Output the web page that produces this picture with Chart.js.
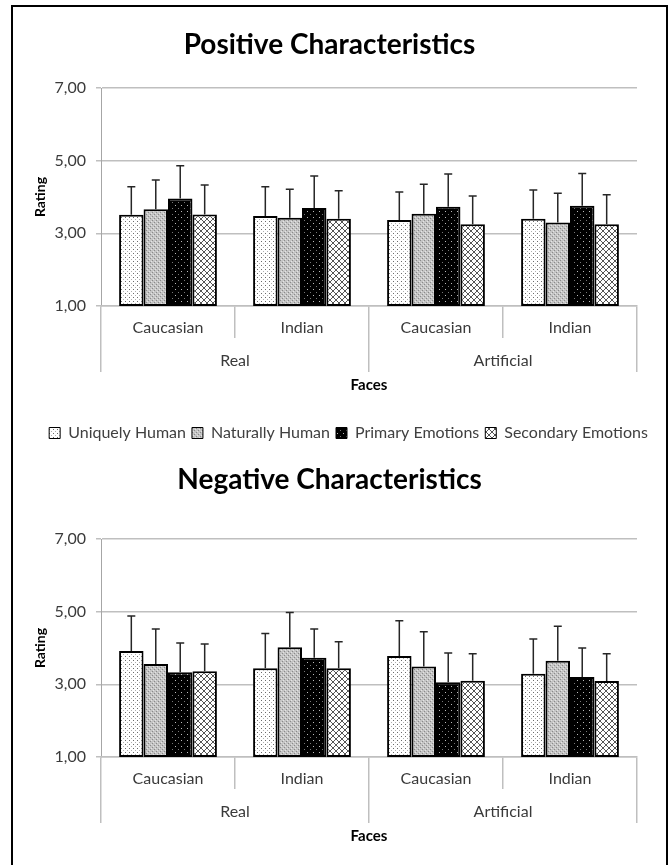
<!DOCTYPE html>
<html>
<head>
<meta charset="utf-8">
<script src="https://cdn.jsdelivr.net/npm/chart.js@4.4.1/dist/chart.umd.min.js"></script>
<style>
  html, body { margin:0; padding:0; background:#fff; }
  body { width:671px; height:865px; position:relative; overflow:hidden; }
  canvas { position:absolute; left:0; }
  #c1 { top:0; }
  #c2 { top:451px; }
  #frame { position:absolute; left:11px; top:5px; width:657px; height:900px; border:2.5px solid #000; box-sizing:border-box; pointer-events:none; }
</style>
</head>
<body>
<canvas id="c1" width="671" height="451" style="width:671px;height:451px"></canvas>
<canvas id="c2" width="671" height="414" style="width:671px;height:414px"></canvas>
<div id="frame"></div>
<script>
// ===== data =====
const races = ['Caucasian', 'Indian', 'Caucasian', 'Indian'];
const faceTypes = ['Real', 'Artificial'];
const seriesNames = ['Uniquely Human', 'Naturally Human', 'Primary Emotions', 'Secondary Emotions'];
const yTicks = [1, 3, 5, 7];

// Positive characteristics: means and error (upper bar length)
const posUH = [3.51, 3.48, 3.37, 3.40];
const posNH = [3.66, 3.43, 3.54, 3.30];
const posPE = [3.96, 3.70, 3.73, 3.76];
const posSE = [3.52, 3.40, 3.25, 3.25];
const posErrUH = [0.77, 0.80, 0.77, 0.79];
const posErrNH = [0.81, 0.78, 0.81, 0.80];
const posErrPE = [0.90, 0.88, 0.90, 0.89];
const posErrSE = [0.81, 0.77, 0.78, 0.81];

// Negative characteristics
const negUH = [3.92, 3.44, 3.78, 3.29];
const negNH = [3.56, 4.02, 3.49, 3.65];
const negPE = [3.33, 3.73, 3.06, 3.20];
const negSE = [3.36, 3.44, 3.10, 3.09];
const negErrUH = [0.96, 0.96, 0.97, 0.96];
const negErrNH = [0.96, 0.96, 0.96, 0.95];
const negErrPE = [0.81, 0.79, 0.80, 0.80];
const negErrSE = [0.75, 0.73, 0.74, 0.75];

Chart.defaults.font.family = 'Lato, "Open Sans", sans-serif';

// ===== fill patterns =====
const pctx = document.getElementById('c1').getContext('2d');
function makePattern(size, draw){
  const c = document.createElement('canvas');
  c.width = c.height = size;
  const g = c.getContext('2d');
  draw(g, size);
  return pctx.createPattern(c, 'repeat');
}
const patterns = [
  makePattern(4, (g) => { g.fillStyle = '#fff'; g.fillRect(0,0,4,4); g.fillStyle = '#6a6a6a'; g.fillRect(1,1,1,1); g.fillStyle = '#b0b0b0'; g.fillRect(3,3,1,1); }),
  makePattern(4, (g) => { g.fillStyle = '#c4c4c4'; g.fillRect(0,0,4,4); g.fillStyle = '#8a8a8a'; g.fillRect(0,0,1,1); g.fillRect(2,2,1,1);
    g.fillStyle = '#e4e4e4'; g.fillRect(1,3,1,1); g.fillRect(3,1,1,1); }),
  makePattern(6, (g) => { g.fillStyle = '#000'; g.fillRect(0,0,6,6); g.fillStyle = '#bbb'; g.fillRect(1,1,1,1); g.fillStyle = '#777'; g.fillRect(4,4,1,1); }),
  makePattern(6, (g) => { g.fillStyle = '#fff'; g.fillRect(0,0,6,6); g.fillStyle = '#555';
    for(let i=0;i<6;i++){ g.fillRect(i,i,1,1); g.fillRect(i,5-i,1,1); } })
];

// ===== error bars (upper only, with cap) =====
const errorBars = {
  id: 'errorBars',
  afterDatasetsDraw(chart){
    const {ctx} = chart;
    const y = chart.scales.y;
    chart.data.datasets.forEach((ds, i) => {
      chart.getDatasetMeta(i).data.forEach((bar, j) => {
        const top = y.getPixelForValue(ds.data[j][1] + ds.errors[j]);
        ctx.save();
        ctx.strokeStyle = '#262626';
        ctx.lineWidth = 1.5;
        ctx.beginPath();
        ctx.moveTo(bar.x, bar.y);
        ctx.lineTo(bar.x, top);
        ctx.moveTo(bar.x - 4, top);
        ctx.lineTo(bar.x + 4, top);
        ctx.stroke();
        ctx.restore();
      });
    });
  }
};

// nudge title and legend so they sit where the reference has them
const boxShift = {
  id: 'boxShift',
  afterLayout(chart){
    if(chart.titleBlock){ chart.titleBlock.left += 6; chart.titleBlock.right += 6; }
    if(chart.legend && chart.options.plugins.legend.display){
      chart.legend.left += 25; chart.legend.right += 25;
    }
  }
};

function build(id, title, titlePad, means, errs, showLegend, bottomPad){
  return new Chart(document.getElementById(id), {
    type: 'bar',
    data: {
      labels: races,
      datasets: seriesNames.map((name, k) => ({
        label: name,
        data: means[k].map(v => [1, v]),
        errors: errs[k],
        backgroundColor: patterns[k],
        borderColor: '#000',
        borderWidth: 2,
        borderSkipped: false,
        categoryPercentage: 0.73,
        barPercentage: 1
      }))
    },
    options: {
      responsive: false,
      animation: false,
      layout: { padding: { left: 10, right: 34, top: 6, bottom: bottomPad } },
      plugins: {
        title: { display: true, text: title, color: '#000', font: { size: 28, weight: 'bold' }, padding: titlePad },
        legend: {
          display: showLegend, position: 'bottom',
          title: { display: true, text: ' ', font: { size: 1 }, padding: { top: 11, bottom: 10.8 } },
          labels: {
            color: '#404040', font: { size: 16 }, boxWidth: 11, boxHeight: 11, padding: 6,
            generateLabels: ch => Chart.defaults.plugins.legend.labels.generateLabels(ch).map(l => ({...l, lineWidth: 1}))
          }
        },
        tooltip: { enabled: false }
      },
      scales: {
        y: {
          min: 1, max: 7,
          afterBuildTicks: s => { s.ticks = yTicks.map(v => ({ value: v })); },
          ticks: { callback: v => v.toFixed(2).replace('.', ','), color: '#3a3a3a', font: { size: 16 }, padding: 10 },
          grid: { color: '#bfbfbf', lineWidth: 1.5, tickLength: 5 },
          border: { color: '#a6a6a6', width: 1 },
          title: { display: true, text: 'Rating', color: '#000', font: { size: 14, weight: 'bold' }, padding: 21.6 },
          afterFit: s => { s.width = 91; }
        },
        x: {
          weight: 0,
          grid: { offset: true, drawOnChartArea: false, tickLength: 32, color: '#bfbfbf', lineWidth: 1.5 },
          border: { color: '#bfbfbf', width: 1.5 },
          ticks: { color: '#3a3a3a', font: { size: 16 }, padding: -19.6 },
          afterFit: s => { s.height = 32; }
        },
        x2: {
          type: 'category', labels: faceTypes, position: 'bottom', weight: 1,
          grid: { offset: true, drawOnChartArea: false, tickLength: 34, color: '#bfbfbf', lineWidth: 1.5 },
          border: { display: false },
          ticks: { color: '#3a3a3a', font: { size: 16 }, padding: -20.6 },
          title: { display: true, text: 'Faces', color: '#000', font: { size: 15, weight: 'bold' }, padding: { top: 0, bottom: 2 } },
          afterFit: s => { s.height = 58; }
        }
      }
    },
    plugins: [errorBars, boxShift]
  });
}

build('c1', 'Positive Characteristics', { top: 22.2, bottom: 26.2 },
  [posUH, posNH, posPE, posSE], [posErrUH, posErrNH, posErrPE, posErrSE], true, 0);
build('c2', 'Negative Characteristics', { top: 6.2, bottom: 42.2 },
  [negUH, negNH, negPE, negSE], [negErrUH, negErrNH, negErrPE, negErrSE], false, 18);
</script>
</body>
</html>
